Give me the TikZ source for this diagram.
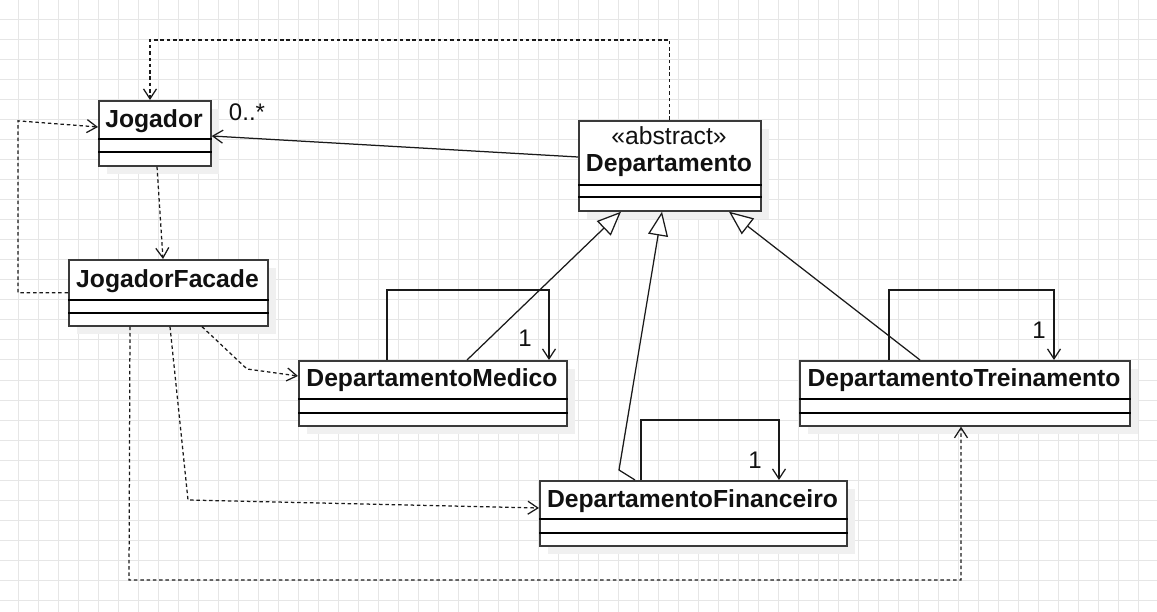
\documentclass[tikz,border=0pt]{standalone}
\usepackage{fontspec}
\setmainfont{Liberation Sans}
\usetikzlibrary{arrows.meta,calc,shadows}
\definecolor{gridc}{HTML}{E6E6E6}
\definecolor{shadowc}{HTML}{F0F0F0}
\definecolor{linec}{HTML}{1A1A1A}
\definecolor{boxc}{HTML}{3A3A3A}
\definecolor{txtc}{HTML}{111111}
\begin{document}
\begin{tikzpicture}[x=1pt,y=-1pt,
  classbox/.style={draw=boxc, line width=1.7pt, fill=white, anchor=north west, inner sep=0pt,
    drop shadow={shadow xshift=8pt, shadow yshift=-8pt, fill=shadowc, opacity=1, draw=none}},
  cname/.style={font=\fontsize{24.7}{28}\selectfont\bfseries, text=txtc, inner sep=0pt, anchor=base},
  ster/.style={font=\fontsize{24.7}{28}\selectfont, text=txtc, inner sep=0pt, anchor=base},
  mult/.style={font=\fontsize{24}{28}\selectfont, text=txtc, inner sep=0pt, anchor=base},
  comp/.style={draw=black, line width=1.2pt},
  depend/.style={draw=linec, line width=1.25pt, dash pattern=on 3.5pt off 2.8pt,
    -{Straight Barb[length=10pt,width=13pt]}},
  assoc/.style={draw=linec, line width=1.25pt, -{Straight Barb[length=10pt,width=13pt]}},
  inh/.style={draw=linec, line width=1.25pt, -{Triangle[open,length=24pt,width=20pt,fill=white]}}
]
\useasboundingbox (0,0) rectangle (1157,612);
% grid
\foreach \x in {18,38,...,1138} \draw[gridc, line width=1pt] (\x,0) -- (\x,612);
\foreach \y in {20,40,...,600} \draw[gridc, line width=1pt] (0,\y) -- (1157,\y);

% class boxes
\node[classbox, minimum width=112, minimum height=65] (jog) at (98,100) {};
\node[classbox, minimum width=199, minimum height=66] (fac) at (68,259) {};
\node[classbox, minimum width=182, minimum height=90] (dep) at (578,120) {};
\node[classbox, minimum width=268, minimum height=65] (med) at (298,360) {};
\node[classbox, minimum width=330, minimum height=65] (tre) at (799,360) {};
\node[classbox, minimum width=307, minimum height=65] (fin) at (539,480) {};

% compartments
\foreach \n/\a/\b in {jog/39/52, fac/41/54, dep/65/77, med/39/53, tre/39/53, fin/39/53}{
  \draw[comp] ($(\n.north west)+(0,\a)$) -- ($(\n.north east)+(0,\a)$);
  \draw[comp] ($(\n.north west)+(0,\b)$) -- ($(\n.north east)+(0,\b)$);
}

% names
\node[cname] (tjog) at (154,128) {Jogador};
\node[cname] (tfac) at (167.5,288) {JogadorFacade};
\node[ster] (tabs) at (669,145) {«abstract»};
\node[cname] (tdep) at (669,172) {Departamento};
\node[cname] (tmed) at (432,387) {DepartamentoMedico};
\node[cname] (ttre) at (964,387) {DepartamentoTreinamento};
\node[cname] (tfin) at (692.5,507) {DepartamentoFinanceiro};

% dependencies
\draw[depend] (dep.north) -- ++(0,-80) -| ($(jog.north west)+(52,0)$);
\draw[depend] (fac.west) -- ++(-50,0) -- ++(0,-172) -- ($(jog.north west)+(0,27)$);
\draw[depend] ($(jog.south west)+(59,0)$) -- ($(fac.north west)+(95,0)$);
\draw[depend] ($(fac.south west)+(134,0)$) -- (247,369) -- ($(med.north west)+(0,16)$);
\draw[depend] ($(fac.south west)+(102,0)$) -- (188,500) -- ($(fin.north west)+(0,28)$);
\draw[depend] ($(fac.south west)+(62,0)$) -- (129,580) -- (961,580) -- ($(tre.south west)+(162,0)$);

% association
\draw[assoc] ($(dep.north west)+(0,37)$) -- ($(jog.north east)+(0,36)$);
\node[mult] (m0) at (247,121) {0..*};

% inheritance
\draw[inh] ($(med.north west)+(169,0)$) -- ($(dep.south west)+(43,0)$);
\draw[inh] ($(fin.north west)+(96,0)$) -- (619,470) -- ($(dep.south west)+(84,0)$);
\draw[inh] ($(tre.north west)+(121,0)$) -- ($(dep.south west)+(151,0)$);

% self associations
\draw[assoc] ($(med.north west)+(89,0)$) -- ++(0,-70) -| ($(med.north west)+(251,0)$);
\node[mult] (m1) at (525,347) {1};
\draw[assoc] ($(tre.north west)+(90,0)$) -- ++(0,-70) -| ($(tre.north west)+(255,0)$);
\node[mult] (m2) at (1039,339) {1};
\draw[assoc] ($(fin.north west)+(102,0)$) -- ++(0,-60) -| ($(fin.north west)+(240,0)$);
\node[mult] (m3) at (755,468) {1};
\end{tikzpicture}
\end{document}
